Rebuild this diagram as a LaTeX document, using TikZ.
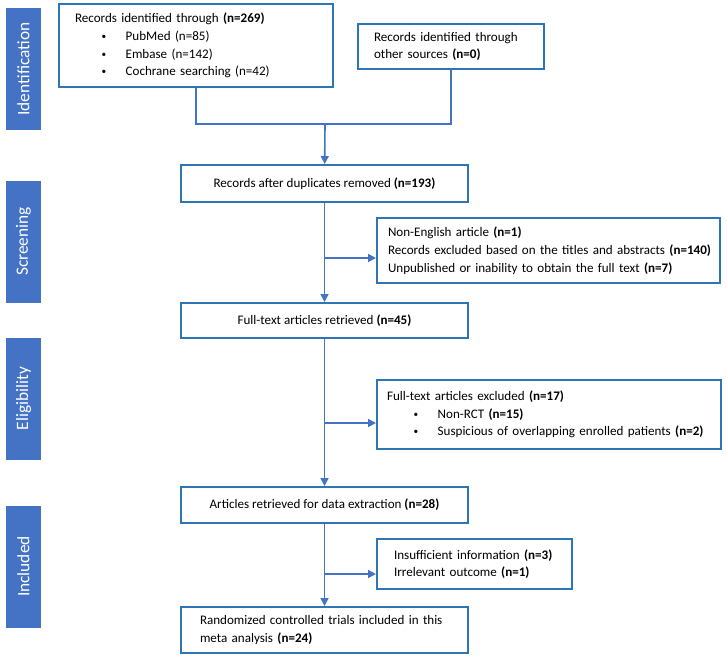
\documentclass[tikz,border=0pt]{standalone}
\usepackage{fontspec}
\setmainfont{Carlito}
\usetikzlibrary{arrows.meta}
\definecolor{barblue}{HTML}{4472C4}
\definecolor{boxblue}{HTML}{2E75B6}
\newcommand{\bul}{\hspace*{20pt}\makebox[18pt][l]{\raisebox{0.8pt}{\fontsize{7}{7}\selectfont\textbullet}}}
\tikzset{
  box/.style={draw=boxblue, line width=1.5pt, fill=white, font=\fontsize{9.8}{13.3}\selectfont},
  lbox/.style={box, align=left},
  cbox/.style={box, align=center, minimum width=215.25pt},
  phase/.style={fill=barblue, text=white, rotate=90, minimum width=91.5pt, minimum height=26.25pt,
    inner sep=0pt, font=\fontsize{13}{15}\selectfont},
  link/.style={draw=barblue, line width=1.2pt},
  arr/.style={link, -{Triangle[length=6pt,width=6pt]}}
}
\begin{document}
\begin{tikzpicture}[x=0.75pt,y=-0.75pt]
  \useasboundingbox (0,0) rectangle (727,658);
  \node[phase] (pid) at (23.5,69) {Identification};
  \node[phase] (psc) at (23.5,241.5) {Screening};
  \node[phase] (pel) at (23.5,398.5) {Eligibility};
  \node[phase] (pin) at (23.5,566.5) {Included};
  \node[lbox, text width=181.5pt, inner xsep=12pt, minimum height=62.25pt] (src) at (196,45.5)
    {Records identified through \textbf{(n=269)}\\ \bul PubMed (n=85)\\ \bul Embase (n=142)\\ \bul Cochrane searching (n=42)};
  \node[lbox, text width=115.5pt, inner xsep=12pt, minimum height=33.75pt] (oth) at (451,46.5)
    {Records identified through\\ other sources \textbf{(n=0)}};
  \node[cbox, minimum height=27.75pt] (dup) at (324.5,183.5) {Records after duplicates removed \textbf{(n=193)}};
  \node[lbox, text width=240.75pt, inner xsep=8.25pt, minimum height=48.75pt] (exs) at (548.5,250.5)
    {Non-English article \textbf{(n=1)}\\ \mbox{Records excluded based on the titles and abstracts \textbf{(n=140)}}\\ Unpublished or inability to obtain the full text \textbf{(n=7)}};
  \node[cbox, minimum height=26.25pt] (ful) at (324.5,320.5) {Full-text articles retrieved \textbf{(n=45)}};
  \node[lbox, text width=243pt, inner xsep=7.5pt, minimum height=51.75pt] (exe) at (549,414.5)
    {Full-text articles excluded \textbf{(n=17)}\\ \bul Non-RCT \textbf{(n=15)}\\ \bul \mbox{Suspicious of overlapping enrolled patients \textbf{(n=2)}}};
  \node[cbox, minimum height=27pt] (ext) at (324.5,505) {Articles retrieved for data extraction \textbf{(n=28)}};
  \node[lbox, text width=120.75pt, inner xsep=12.75pt, minimum height=37.5pt] (exi) at (474.5,564)
    {\mbox{Insufficient information \textbf{(n=3)}}\\ Irrelevant outcome \textbf{(n=1)}};
  \node[lbox, text width=186.75pt, inner xsep=14.25pt, minimum height=34.5pt] (rct) at (324.5,630)
    {\mbox{Randomized controlled trials included in this}\\ meta analysis \textbf{(n=24)}};
  \coordinate (mrg) at (325,124);
  \coordinate (bs) at (325,258);
  \coordinate (be) at (325,423);
  \coordinate (bi) at (325,574);
  \draw[link] (src.south) |- (mrg) -| (oth.south);
  \draw[arr] (mrg) -- (dup);
  \draw[arr] (dup) -- (ful);
  \draw[arr] (ful) -- (ext);
  \draw[arr] (ext) -- (rct);
  \draw[arr] (bs) -- (bs -| exs.west);
  \draw[arr] (be) -- (be -| exe.west);
  \draw[arr] (bi) -- (bi -| exi.west);
\end{tikzpicture}
\end{document}
